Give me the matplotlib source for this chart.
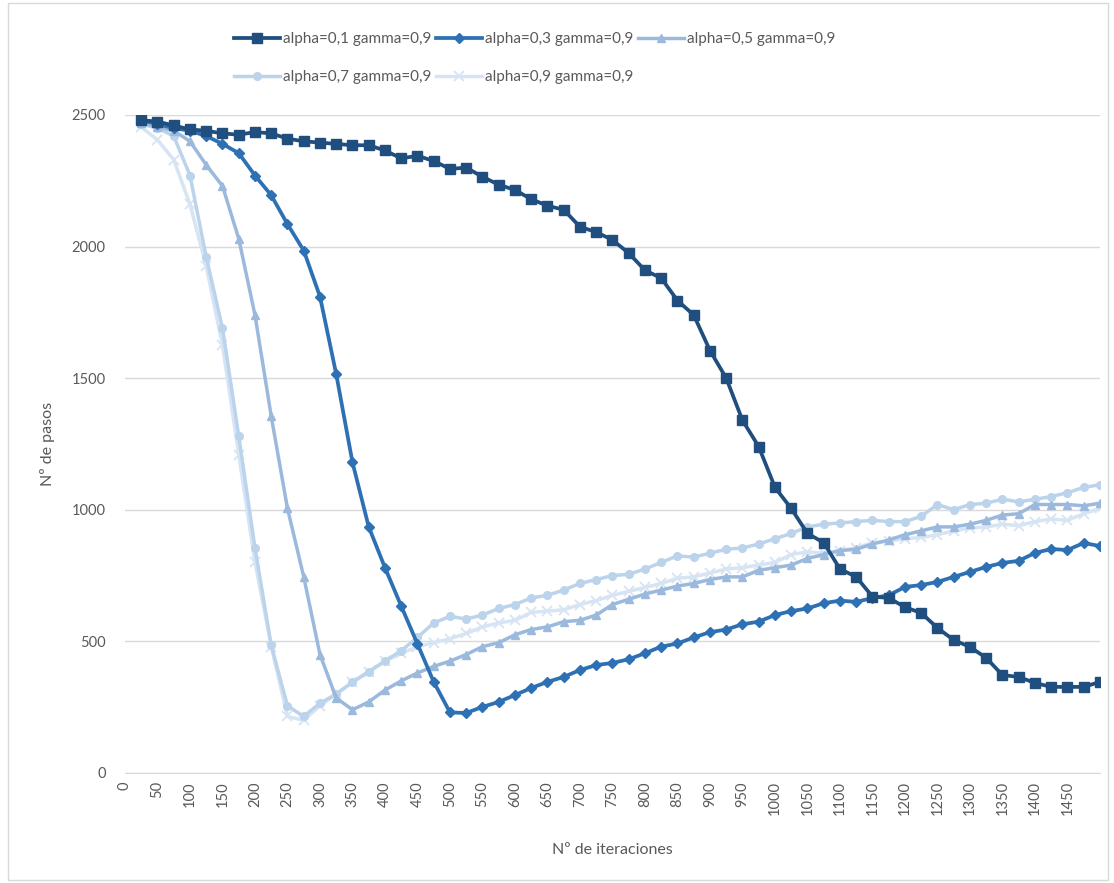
import matplotlib.pyplot as plt
from matplotlib.patches import Rectangle
import numpy as np

plt.rcParams['font.family'] = ['Lato', 'DejaVu Sans']

iteraciones = list(range(25, 1501, 25))

# alpha=0,1 gamma=0,9
pasos_a01 = [2480, 2475, 2460, 2445, 2440, 2430, 2425, 2435, 2430, 2410,
             2400, 2395, 2390, 2385, 2385, 2365, 2335, 2345, 2325, 2295,
             2300, 2265, 2235, 2215, 2180, 2155, 2140, 2075, 2055, 2025,
             1975, 1910, 1880, 1795, 1740, 1605, 1500, 1340, 1240, 1085,
             1005, 910, 875, 775, 745, 670, 665, 630, 608, 551,
             505, 479, 437, 372, 365, 342, 327, 327, 327, 346]
# alpha=0,3 gamma=0,9
pasos_a03 = [2480, 2465, 2450, 2440, 2420, 2390, 2355, 2270, 2195, 2085,
             1985, 1810, 1515, 1180, 935, 780, 634, 490, 346, 230,
             228, 251, 270, 296, 323, 346, 365, 391, 410, 418,
             432, 455, 480, 492, 515, 535, 545, 565, 575, 600,
             615, 625, 645, 655, 650, 665, 675, 707, 714, 726,
             745, 764, 783, 798, 806, 836, 851, 847, 874, 862]
# alpha=0,5 gamma=0,9
pasos_a05 = [2470, 2455, 2440, 2400, 2310, 2230, 2030, 1740, 1355, 1005,
             745, 450, 285, 240, 270, 315, 350, 380, 405, 425,
             450, 480, 495, 525, 545, 555, 575, 580, 600, 640,
             660, 680, 695, 710, 720, 735, 745, 745, 770, 780,
             790, 815, 830, 845, 850, 870, 885, 905, 920, 935,
             935, 945, 960, 980, 985, 1020, 1020, 1020, 1015, 1025]
# alpha=0,7 gamma=0,9
pasos_a07 = [2465, 2450, 2420, 2270, 1960, 1690, 1280, 855, 485, 255,
             215, 265, 300, 345, 385, 425, 465, 515, 570, 595,
             585, 600, 625, 640, 665, 675, 695, 720, 735, 750,
             755, 775, 800, 825, 820, 835, 850, 855, 870, 890,
             910, 935, 945, 950, 955, 960, 955, 955, 975, 1020,
             1000, 1020, 1025, 1040, 1030, 1040, 1050, 1065, 1085, 1095]
# alpha=0,9 gamma=0,9
pasos_a09 = [2455, 2405, 2330, 2160, 1925, 1625, 1210, 800, 480, 215,
             200, 255, 300, 345, 385, 425, 455, 480, 495, 510,
             530, 555, 570, 580, 610, 615, 620, 640, 655, 675,
             690, 705, 720, 740, 745, 760, 775, 780, 790, 800,
             830, 840, 835, 845, 855, 875, 880, 890, 895, 905,
             920, 930, 935, 945, 940, 955, 965, 960, 985, 1005]

etiquetas = ['alpha=0,1 gamma=0,9', 'alpha=0,3 gamma=0,9', 'alpha=0,5 gamma=0,9',
             'alpha=0,7 gamma=0,9', 'alpha=0,9 gamma=0,9']

fig = plt.figure(figsize=(11.14, 8.83), dpi=100)
ax = fig.add_axes([0.1122, 0.1246, 0.8752, 0.7452])

lines = []
lines += ax.plot(iteraciones, pasos_a09, color='#d6e4f4', lw=2.5, marker='x',
                 ms=7, mew=1.3, label=etiquetas[4])
lines += ax.plot(iteraciones, pasos_a07, color='#bcd3ec', lw=2.5, marker='o',
                 ms=5.5, label=etiquetas[3])
lines += ax.plot(iteraciones, pasos_a05, color='#9bb9dc', lw=2.5, marker='^',
                 ms=5.5, label=etiquetas[2])
lines += ax.plot(iteraciones, pasos_a03, color='#2e70b4', lw=2.7, marker='D',
                 ms=5.5, label=etiquetas[1])
lines += ax.plot(iteraciones, pasos_a01, color='#1f4e7f', lw=2.7, marker='s',
                 ms=6.5, label=etiquetas[0])

ax.set_xlim(0, 1500)
ax.set_ylim(0, 2500)
ax.set_xticks(range(0, 1451, 50))
ax.set_xticklabels([str(v) for v in range(0, 1451, 50)], rotation=90)
ax.set_yticks(range(0, 2501, 500))
ax.tick_params(length=0, colors='#595959', labelsize=10.5)
ax.tick_params(axis='x', pad=6)
ax.tick_params(axis='y', pad=14)
ax.grid(axis='y', color='#d9d9d9', lw=1)
ax.set_axisbelow(True)
for s in ['top', 'right', 'left']:
    ax.spines[s].set_visible(False)
ax.spines['bottom'].set_color('#d9d9d9')

ax.set_xlabel('Nº de iteraciones', color='#595959', fontsize=11.5, labelpad=20)
ax.set_ylabel('Nº de pasos', color='#595959', fontsize=11.5, labelpad=12)

# legend: row 1 -> 0.1, 0.3, 0.5 ; row 2 -> 0.7, 0.9
h = lines[::-1]
order = [0, 3, 1, 4, 2]
fig.legend([h[i] for i in order], [etiquetas[i] for i in order], ncol=3,
           loc='upper left', bbox_to_anchor=(0.198, 0.979), frameon=False,
           fontsize=11, handlelength=3.0, handletextpad=0.2, columnspacing=0.3,
           labelspacing=1.55, labelcolor='#595959')

fig.patches.append(Rectangle((0.007, 0.003), 0.988, 0.994, transform=fig.transFigure,
                             fill=False, edgecolor='#d9d9d9', lw=1))

fig.savefig('out.png', dpi=100)
